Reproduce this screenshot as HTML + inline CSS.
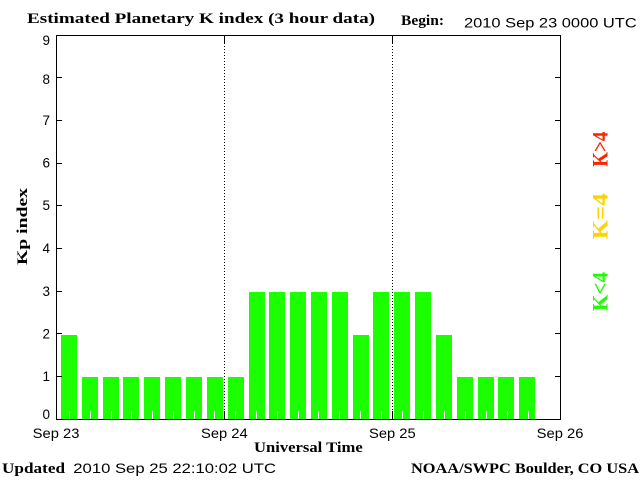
<!DOCTYPE html>
<html><head><meta charset="utf-8"><style>
html,body{margin:0;padding:0;background:#fff;}
svg{display:block;}
.sb{font-family:"Liberation Serif",serif;font-weight:bold;fill:#000;}
.ss{font-family:"Liberation Sans",sans-serif;fill:#000;}
</style></head><body>
<svg width="640" height="480" viewBox="0 0 640 480" xmlns="http://www.w3.org/2000/svg">
<rect x="0" y="0" width="640" height="480" fill="#fff"/>
<text class="sb" x="27" y="23" font-size="15" textLength="348" lengthAdjust="spacingAndGlyphs">Estimated Planetary K index (3 hour data)</text>
<text class="sb" x="401" y="25" font-size="15" textLength="43" lengthAdjust="spacingAndGlyphs">Begin:</text>
<text class="ss" x="464" y="27.5" font-size="13.5" textLength="172.7" lengthAdjust="spacingAndGlyphs">2010 Sep 23 0000 UTC</text>

<g fill="#1cff00" shape-rendering="crispEdges">
<rect x="61" y="335" width="16" height="84"/>
<rect x="82" y="377" width="16" height="42"/>
<rect x="103" y="377" width="16" height="42"/>
<rect x="123" y="377" width="16" height="42"/>
<rect x="144" y="377" width="16" height="42"/>
<rect x="165" y="377" width="16" height="42"/>
<rect x="186" y="377" width="16" height="42"/>
<rect x="207" y="377" width="16" height="42"/>
<rect x="228" y="377" width="16" height="42"/>
<rect x="249" y="292" width="16" height="127"/>
<rect x="269" y="292" width="16" height="127"/>
<rect x="290" y="292" width="16" height="127"/>
<rect x="311" y="292" width="16" height="127"/>
<rect x="332" y="292" width="16" height="127"/>
<rect x="353" y="335" width="16" height="84"/>
<rect x="373" y="292" width="16" height="127"/>
<rect x="394" y="292" width="16" height="127"/>
<rect x="415" y="292" width="16" height="127"/>
<rect x="436" y="335" width="16" height="84"/>
<rect x="457" y="377" width="16" height="42"/>
<rect x="478" y="377" width="16" height="42"/>
<rect x="498" y="377" width="16" height="42"/>
<rect x="519" y="377" width="16" height="42"/>
</g>
<g stroke="#fff" stroke-width="1" shape-rendering="crispEdges">
<line x1="69.5" y1="411" x2="69.5" y2="419"/>
<line x1="90.5" y1="411" x2="90.5" y2="419"/>
<line x1="111.5" y1="411" x2="111.5" y2="419"/>
<line x1="131.5" y1="411" x2="131.5" y2="419"/>
<line x1="152.5" y1="411" x2="152.5" y2="419"/>
<line x1="173.5" y1="411" x2="173.5" y2="419"/>
<line x1="194.5" y1="411" x2="194.5" y2="419"/>
<line x1="214.5" y1="411" x2="214.5" y2="419"/>
<line x1="235.5" y1="411" x2="235.5" y2="419"/>
<line x1="256.5" y1="411" x2="256.5" y2="419"/>
<line x1="277.5" y1="411" x2="277.5" y2="419"/>
<line x1="298.5" y1="411" x2="298.5" y2="419"/>
<line x1="318.5" y1="411" x2="318.5" y2="419"/>
<line x1="339.5" y1="411" x2="339.5" y2="419"/>
<line x1="360.5" y1="411" x2="360.5" y2="419"/>
<line x1="381.5" y1="411" x2="381.5" y2="419"/>
<line x1="402.5" y1="411" x2="402.5" y2="419"/>
<line x1="423.5" y1="411" x2="423.5" y2="419"/>
<line x1="444.5" y1="411" x2="444.5" y2="419"/>
<line x1="465.5" y1="411" x2="465.5" y2="419"/>
<line x1="486.5" y1="411" x2="486.5" y2="419"/>
<line x1="507.5" y1="411" x2="507.5" y2="419"/>
<line x1="528.5" y1="411" x2="528.5" y2="419"/>
</g>

<g stroke="#000" stroke-width="1" fill="none" shape-rendering="crispEdges">
<line x1="224.5" y1="43" x2="224.5" y2="411" stroke-dasharray="1,2"/>
<line x1="392.5" y1="43" x2="392.5" y2="411" stroke-dasharray="1,2"/>
<line x1="224.5" y1="35" x2="224.5" y2="43"/>
<line x1="392.5" y1="35" x2="392.5" y2="43"/>
<line x1="224.5" y1="411" x2="224.5" y2="419"/>
<line x1="392.5" y1="411" x2="392.5" y2="419"/>
<rect x="56.5" y="35.5" width="504" height="384"/>
<path d="M57 376.5h5M57 333.5h5M57 291.5h5M57 248.5h5M57 205.5h5M57 163.5h5M57 120.5h5M57 77.5h5"/>
<path d="M555 376.5h5M555 333.5h5M555 291.5h5M555 248.5h5M555 205.5h5M555 163.5h5M555 120.5h5M555 77.5h5"/>
</g>

<g class="ss" font-size="13.5" text-anchor="end">
<text x="50" y="45">9</text>
<text x="50" y="84">8</text>
<text x="50" y="125">7</text>
<text x="50" y="167.5">6</text>
<text x="50" y="210">5</text>
<text x="50" y="253">4</text>
<text x="50" y="296">3</text>
<text x="50" y="338.5">2</text>
<text x="50" y="381">1</text>
<text x="50" y="419">0</text>
</g>

<text class="sb" font-size="15" transform="translate(27,265) rotate(-90)" textLength="77" lengthAdjust="spacingAndGlyphs">Kp index</text>

<g class="ss" font-size="14">
<text x="32.7" y="438" textLength="46.7" lengthAdjust="spacingAndGlyphs">Sep 23</text>
<text x="201" y="438" textLength="46.7" lengthAdjust="spacingAndGlyphs">Sep 24</text>
<text x="369" y="438" textLength="46.7" lengthAdjust="spacingAndGlyphs">Sep 25</text>
<text x="536.7" y="438" textLength="46.7" lengthAdjust="spacingAndGlyphs">Sep 26</text>
</g>
<text class="sb" x="254" y="452" font-size="15" textLength="108.7" lengthAdjust="spacingAndGlyphs">Universal Time</text>

<text class="sb" x="2" y="473" font-size="15" textLength="63" lengthAdjust="spacingAndGlyphs">Updated</text>
<text class="ss" x="73.3" y="473" font-size="14" textLength="202.7" lengthAdjust="spacingAndGlyphs">2010 Sep 25 22:10:02 UTC</text>
<text class="sb" x="411" y="473" font-size="15" textLength="228" lengthAdjust="spacingAndGlyphs">NOAA/SWPC Boulder, CO USA</text>

<text class="sb" font-size="22" style="fill:#ff2200" transform="translate(607.5,166.7) rotate(-90)" textLength="35" lengthAdjust="spacingAndGlyphs">K&gt;4</text>
<text class="sb" font-size="22" style="fill:#ffd200" transform="translate(607.5,239.3) rotate(-90)" textLength="46" lengthAdjust="spacingAndGlyphs">K=4</text>
<text class="sb" font-size="22" style="fill:#1cff00" transform="translate(607.5,311) rotate(-90)" textLength="39" lengthAdjust="spacingAndGlyphs">K&lt;4</text>
</svg>
</body></html>
